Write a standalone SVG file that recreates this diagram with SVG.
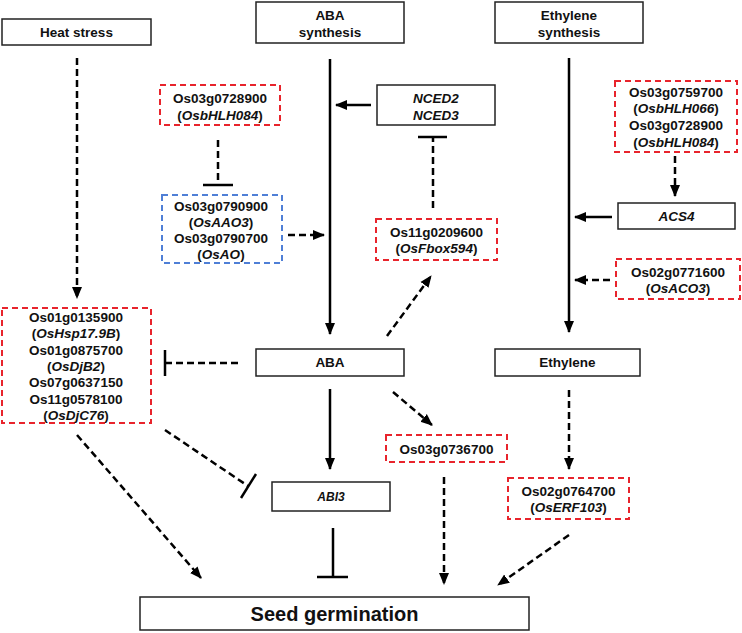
<svg xmlns="http://www.w3.org/2000/svg" width="742" height="633" viewBox="0 0 742 633">
<style>
text{font-family:"Liberation Sans",Arial,sans-serif;font-weight:bold;font-size:13.5px;fill:#111;text-anchor:middle}
.i{font-style:italic}
.box{fill:#fff;stroke:#222;stroke-width:1.5}
.red{fill:#fff;stroke:#e8242c;stroke-width:2;stroke-dasharray:6,4}
.blue{fill:#fff;stroke:#4f7fd6;stroke-width:2;stroke-dasharray:6,4}
.s{stroke:#000;stroke-width:2.5;fill:none}
.d{stroke:#000;stroke-width:2.5;fill:none;stroke-dasharray:7,4}
.t{stroke:#000;stroke-width:2.5;fill:none}
</style>
<defs>
<marker id="ah" markerUnits="userSpaceOnUse" markerWidth="12" markerHeight="12" viewBox="0 0 12 12" refX="11" refY="6" orient="auto">
<path d="M0,1 L12,6 L0,11 z" fill="#000"/>
</marker>
</defs>

<g id="heat-stress"><rect class="box" x="2" y="19" width="149" height="26"/><text x="76.5" y="37">Heat stress</text></g>
<g id="aba-synthesis"><rect class="box" x="256" y="2" width="148" height="41"/><text x="330" y="20">ABA</text><text x="330" y="37">synthesis</text></g>
<g id="ethylene-synthesis"><rect class="box" x="495" y="2" width="148" height="41"/><text x="569" y="20">Ethylene</text><text x="569" y="37">synthesis</text></g>
<g id="osbhlh084"><rect class="red" x="160" y="85" width="120" height="40"/><text x="220" y="103">Os03g0728900</text><text x="220" y="120">(<tspan class="i">OsbHLH084</tspan>)</text></g>
<g id="nced"><rect class="box" x="377" y="85" width="118" height="40"/><text class="i" x="436" y="103">NCED2</text><text class="i" x="436" y="120">NCED3</text></g>
<g id="bhlh-eth"><rect class="red" x="615" y="81" width="122" height="71"/><text x="676" y="97">Os03g0759700</text><text x="676" y="113">(<tspan class="i">OsbHLH066</tspan>)</text><text x="676" y="130">Os03g0728900</text><text x="676" y="147">(<tspan class="i">OsbHLH084</tspan>)</text></g>
<g id="osaao"><rect class="blue" x="162" y="195" width="120" height="68"/><text x="221" y="211">Os03g0790900</text><text x="221" y="227">(<tspan class="i">OsAAO3</tspan>)</text><text x="221" y="243">Os03g0790700</text><text x="221" y="259">(<tspan class="i">OsAO</tspan>)</text></g>
<g id="osfbox594"><rect class="red" x="376" y="219" width="121" height="41"/><text x="436.5" y="237">Os11g0209600</text><text x="436.5" y="253">(<tspan class="i">OsFbox594</tspan>)</text></g>
<g id="acs4"><rect class="box" x="618" y="203" width="117" height="26"/><text class="i" x="676.5" y="221">ACS4</text></g>
<g id="osaco3"><rect class="red" x="616" y="259" width="124" height="40"/><text x="678" y="277">Os02g0771600</text><text x="678" y="293">(<tspan class="i">OsACO3</tspan>)</text></g>
<g id="heat-genes"><rect class="red" x="2" y="308" width="149" height="115"/>
<text x="76" y="322">Os01g0135900</text><text x="76" y="338">(<tspan class="i">OsHsp17.9B</tspan>)</text><text x="76" y="355">Os01g0875700</text><text x="76" y="371">(<tspan class="i">OsDjB2</tspan>)</text><text x="76" y="387">Os07g0637150</text><text x="76" y="404">Os11g0578100</text><text x="76" y="420">(<tspan class="i">OsDjC76</tspan>)</text></g>
<g id="aba"><rect class="box" x="256" y="349" width="148" height="27"/><text x="330" y="367">ABA</text></g>
<g id="ethylene"><rect class="box" x="495" y="349" width="145" height="27"/><text x="567.5" y="367">Ethylene</text></g>
<g id="os03g0736700"><rect class="red" x="386" y="435" width="121" height="27"/><text x="446.5" y="453.5">Os03g0736700</text></g>
<g id="abi3"><rect class="box" x="272" y="482" width="118" height="29"/><text class="i" x="331" y="501" style="font-size:12px">ABI3</text></g>
<g id="oserf103"><rect class="red" x="508" y="478" width="121" height="41"/><text x="568.5" y="496">Os02g0764700</text><text x="568.5" y="512">(<tspan class="i">OsERF103</tspan>)</text></g>
<g id="seed-germination"><rect class="box" x="140" y="597" width="389" height="33"/><text x="334.5" y="621" style="font-size:20px">Seed germination</text></g>

<g id="connectors">
<line class="s" x1="330" y1="59" x2="330" y2="334" marker-end="url(#ah)"/>
<line class="s" x1="569" y1="58" x2="569" y2="332" marker-end="url(#ah)"/>
<line class="d" x1="77" y1="58" x2="77" y2="298" marker-end="url(#ah)"/>
<line class="s" x1="371" y1="105" x2="336" y2="105" marker-end="url(#ah)"/>
<line class="d" x1="218" y1="140" x2="218" y2="185"/><line class="t" x1="203" y1="185" x2="233" y2="185"/>
<line class="d" x1="433" y1="208" x2="433" y2="137"/><line class="t" x1="418" y1="137" x2="447" y2="137"/>
<line class="d" x1="288" y1="235" x2="324" y2="235" marker-end="url(#ah)"/>
<line class="d" x1="387" y1="336" x2="431" y2="276" marker-end="url(#ah)"/>
<line class="d" x1="675" y1="156" x2="675" y2="196" marker-end="url(#ah)"/>
<line class="s" x1="612" y1="217" x2="575" y2="217" marker-end="url(#ah)"/>
<line class="d" x1="610" y1="280" x2="575" y2="280" marker-end="url(#ah)"/>
<line class="d" x1="238" y1="363" x2="165" y2="363"/><line class="t" x1="165" y1="350" x2="165" y2="376"/>
<line class="s" x1="330" y1="389" x2="330" y2="469" marker-end="url(#ah)"/>
<line class="d" x1="393" y1="392" x2="432" y2="425" marker-end="url(#ah)"/>
<line class="d" x1="569" y1="390" x2="569" y2="469" marker-end="url(#ah)"/>
<line class="d" x1="165" y1="430" x2="248" y2="486"/><line class="t" x1="256" y1="474" x2="241" y2="498"/>
<line class="d" x1="77" y1="435" x2="201" y2="578" marker-end="url(#ah)"/>
<line class="s" x1="333" y1="528" x2="333" y2="577"/><line class="t" x1="317" y1="577" x2="348" y2="577"/>
<line class="d" x1="444" y1="477" x2="444" y2="584" marker-end="url(#ah)"/>
<line class="d" x1="569" y1="535" x2="498" y2="585" marker-end="url(#ah)"/>
</g>
</svg>
